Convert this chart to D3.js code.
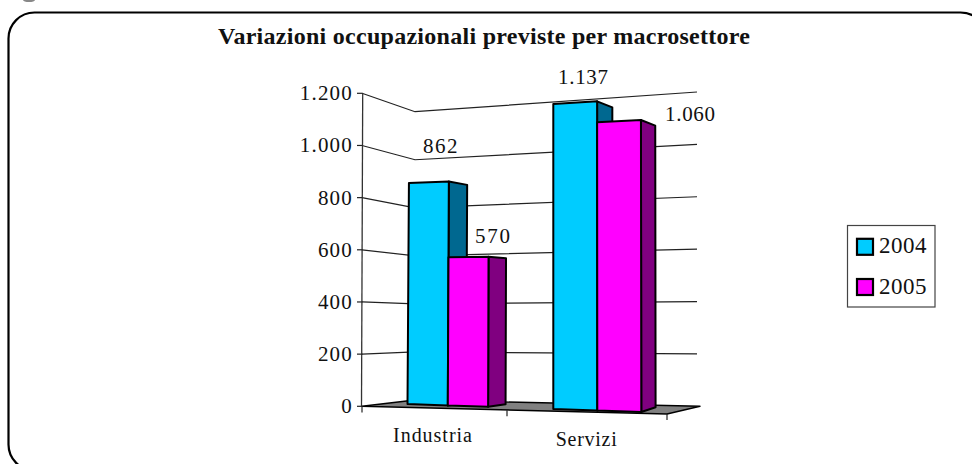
<!DOCTYPE html>
<html><head><meta charset="utf-8">
<script src="https://cdn.jsdelivr.net/npm/d3@7"></script>
<style>html,body{margin:0;background:#fff}svg{display:block}text{font-family:"Liberation Serif","Times New Roman",serif;fill:#111}</style>
</head><body><svg id="c" width="972" height="464"></svg>
<script>
const categories = ["Industria", "Servizi"];
const seriesNames = ["2004", "2005"];
const values2004 = [862, 1137];
const values2005 = [570, 1060];
const tickValues = [0, 200, 400, 600, 800, 1000, 1200];
const titleText = "Variazioni occupazionali previste per macrosettore";
const fmt = v => d3.format(",")(v).replace(",", ".");

const svg = d3.select("#c");
const line = d3.line();

// stray descender cropped from the text above the frame
svg.append("ellipse").attr("cx",29).attr("cy",0).attr("rx",6).attr("ry",2).attr("fill","#888");

// frame
svg.append("rect").attr("x",8.5).attr("y",12.5).attr("width",978).attr("height",458).attr("rx",26).attr("ry",26)
  .attr("fill","#fff").attr("stroke","#000").attr("stroke-width",2.2);

svg.append("text").attr("x",484).attr("y",43.5).attr("text-anchor","middle").attr("font-weight","bold")
  .attr("font-size",24).attr("textLength",532).text(titleText);

// wall projection: value -> y on each of the three wall edges
const yLeft = d3.scaleLinear().domain([0,1200]).range([406.3,93.3]);
const yCorner = d3.scaleLinear().domain([0,1200]).range([400,111.7]);
const yRight = d3.scaleLinear().domain([0,1200]).range([406.3,92]);
const wallX = d3.scaleLinear().domain([0,1,2]).range([362,415,697]);
const frontX = d3.scaleLinear().domain([0,1,2]).range([362,507,667]);
const frontY = d3.scaleLinear().domain([0,2]).range([406.5,414]);

// floor
svg.append("path").attr("d", line([[wallX(0),yLeft(0)],[wallX(1),yCorner(0)],[700,yRight(0)],[frontX(2),frontY(2)]])+"Z")
  .attr("fill","#808080").attr("stroke","#000").attr("stroke-width",1.4).attr("stroke-linejoin","round");

// grid
tickValues.filter(v=>v>0).forEach(v=>{
  svg.append("path").attr("fill","none").attr("stroke","#222").attr("stroke-width",1.2)
    .attr("d", line([[wallX(0),yLeft(v)],[wallX(1),yCorner(v)],[wallX(2),yRight(v)]]));
});
// y axis
svg.append("line").attr("x1",361.5).attr("x2",362.7).attr("y1",yLeft(0)).attr("y2",yLeft(1200)).attr("stroke","#333").attr("stroke-width",1.3);
tickValues.forEach(v=>{
  svg.append("line").attr("x1",357).attr("x2",362.5).attr("y1",yLeft(v)).attr("y2",yLeft(v)).attr("stroke","#222").attr("stroke-width",1.2);
  svg.append("text").attr("x",353).attr("y",yLeft(v)+7).attr("text-anchor","end").attr("font-size",21).attr("letter-spacing",1.2).text(fmt(v));
});
// x ticks
[0,1,2].forEach(i=>{
  svg.append("line").attr("x1",frontX(i)).attr("x2",frontX(i)).attr("y1",frontY(i)).attr("y2",frontY(i)+6).attr("stroke","#222").attr("stroke-width",1.2);
});
// category labels
const catX = d3.scaleOrdinal().domain(categories).range([393,555.7]);
const catY = d3.scaleOrdinal().domain(categories).range([441.7,446]);
const catW = d3.scaleOrdinal().domain(categories).range([79,61]);
categories.forEach(c=>svg.append("text").attr("x",catX(c)).attr("y",catY(c)).attr("font-size",20).attr("textLength",catW(c)).text(c));

// bar projection
const barStart = d3.scaleOrdinal().domain(categories).range([407.5,553.3]);
const barStep = d3.scaleOrdinal().domain(categories).range([40.3,44]);
const baseF = d3.scaleLinear().domain([407,641]).range([404,412]);
const unitF = d3.scaleLinear().domain([407,641]).range([.2564,.2755]);
const baseB = d3.scaleLinear().domain([507,655]).range([404.2,407.3]);
const unitB = d3.scaleLinear().domain([467,655]).range([.2535,.2657]);
const lean = d3.scaleLinear().domain([407,553,641]).range([1.5,0,-.3]);
const depth = d3.scaleLinear().domain([449,641]).range([18.3,14.3]);
const pf = (x,v) => [x+lean(x)*(v/900), baseF(x)-unitF(x)*v];
const pb = (x,v) => { const b=x+depth(x); return [b+lean(x)*(v/900), baseB(b)-unitB(b)*v]; };

const seriesFill = [["#00ccff","#006890"],["#ff00ff","#800080"]];
const seriesVals = [values2004, values2005];

function drawBar(ci, si){
  const c=categories[ci], v=seriesVals[si][ci];
  const x0=barStart(c)+barStep(c)*si, x1=x0+barStep(c);
  const g=svg.append("g").attr("stroke","#000").attr("stroke-width",2).attr("stroke-linejoin","round");
  g.append("path").attr("fill",seriesFill[si][1]).attr("d",line([pf(x1,0),pb(x1,0),pb(x1,v),pf(x1,v)])+"Z");
  g.append("path").attr("fill",seriesFill[si][0]).attr("d",line([pf(x0,0),pf(x1,0),pf(x1,v),pf(x0,v)])+"Z");
}
[0,1].forEach(ci=>{drawBar(ci,0);drawBar(ci,1);});

// value labels
const labelX = [[423,475],[558,665]], labelY=[[153.3,243],[84,121]], labelW=[[34.5,35],[50,50]];
[0,1].forEach(ci=>[0,1].forEach(si=>{
  const v=seriesVals[si][ci];
  svg.append("text").attr("x",labelX[ci][si]).attr("y",labelY[ci][si]).attr("font-size",21).attr("textLength",labelW[ci][si]).text(fmt(v));
}));

// legend
const lg=svg.append("g");
lg.append("rect").attr("x",847.5).attr("y",225.5).attr("width",87.5).attr("height",81.5).attr("fill","#fff").attr("stroke","#444").attr("stroke-width",1.2);
seriesNames.forEach((s,i)=>{
  const y=d3.scaleLinear().domain([0,1]).range([238.8,279])(i);
  lg.append("rect").attr("x",857).attr("y",y).attr("width",16).attr("height",16).attr("fill",seriesFill[i][0]).attr("stroke","#000").attr("stroke-width",2.2);
  lg.append("text").attr("x",879).attr("y",y+14.6).attr("font-size",23).attr("textLength",47.5).text(s);
});
</script></body></html>
